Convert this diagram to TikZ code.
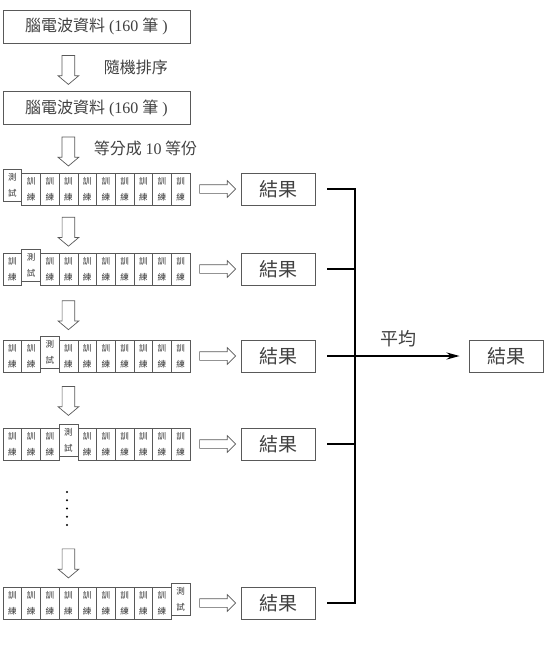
\documentclass[tikz,border=0pt]{standalone}
\usepackage{fontspec}
\setmainfont{Liberation Serif}
\newfontfamily\cjk{Noto Sans CJK TC}
\usetikzlibrary{positioning,shapes.arrows,arrows.meta}

\definecolor{boxgray}{gray}{0.35}

\tikzset{
    data box/.style={
        draw=boxgray,line width=.8pt,inner sep=0pt,
        minimum width=187pt,minimum height=33pt,
        text=black!75,font=\fontsize{16}{18}\selectfont
    },
    fold cell/.style={
        draw=boxgray,line width=.6pt,inner sep=0pt,align=center,
        minimum width=18.7pt,minimum height=32pt,
        text=black!80,font=\cjk\fontsize{8.5}{15.5}\selectfont
    },
    result box/.style={
        draw=boxgray,line width=.8pt,inner sep=0pt,
        minimum width=74pt,minimum height=32pt,
        text=black!75,font=\cjk\fontsize{19}{21}\selectfont
    },
    hollow arrow/.style={
        single arrow,draw=boxgray,line width=.7pt,fill=white,
        inner xsep=0pt,single arrow head indent=0pt
    },
    down arrow/.style={
        hollow arrow,rotate=-90,minimum height=29pt,inner ysep=6pt,
        single arrow head extend=4pt,single arrow tip angle=100
    },
    right arrow/.style={
        hollow arrow,minimum height=36pt,inner ysep=4pt,
        single arrow head extend=4pt,single arrow tip angle=90
    },
    note label/.style={text=black!75,font=\cjk\fontsize{16}{18}\selectfont},
    bracket/.style={line width=2.4pt}
}

\begin{document}
\begin{tikzpicture}[x=1pt,y=-1pt]
    \useasboundingbox (0,0) rectangle (547,659);
    \coordinate (spine) at (68.4,0);
    \node[data box] (raw) at (96.5,26.5) {{\cjk 腦電波資料} (160 {\cjk 筆} )};
    \node[data box] (shuffled) at (96.5,108) {{\cjk 腦電波資料} (160 {\cjk 筆} )};
    \path (raw.south -| spine) -- node[down arrow] (a0) {} (shuffled.north -| spine);
    \node[note label,right=32pt of a0.center] {隨機排序};
    % ten folds, one held out for testing in each row
    \foreach \r/\y/\t in {1/189/1,2/269/2,3/356/3,4/444/4,5/603/10}{
        \foreach \c in {1,...,10}{
            \ifnum\c=\t
                \node[fold cell,yshift=3.5pt] (f\r-\c) at (18.7*\c-6.35,\y) {測\\試};
            \else
                \node[fold cell] (f\r-\c) at (18.7*\c-6.35,\y) {訓\\練};
            \fi
        }
        \node[result box] (res\r) at (278,\y) {結果};
        \path (f\r-10.east |- res\r) -- node[right arrow] {} (res\r.west);
    }
    \path (shuffled.south -| spine) -- node[down arrow] (a1) {} (f1-4.north);
    \node[note label,right=22pt of a1.center] {等分成 {\rmfamily 10} 等份};
    \foreach \r/\s in {1/2,2/3,3/4}
        \path (f\r-4.south) -- node[down arrow] {} (f\s-4.north);
    % skipped rows
    \foreach \k in {0,...,4}
        \fill (67,492+8.25*\k) circle (1.1pt);
    \path (f4-4.south) -- node[down arrow,pos=.8] {} (f5-4.north);
    % average of the ten results
    \coordinate (join) at (355,356);
    \node[result box] (mean) at (506,356) {結果};
    \draw[bracket] ([xshift=12pt]res1.east) -- (res1 -| join) -- (res5 -| join) -- ([xshift=12pt]res5.east);
    \foreach \r in {2,4}
        \draw[bracket] ([xshift=12pt]res\r.east) -- (res\r -| join);
    \draw[bracket,-{Stealth[length=13pt,width=7pt]}] ([xshift=12pt]res3.east)
        -- node[pos=.54,above=4pt,note label,font=\cjk\fontsize{18}{20}\selectfont] {平均} ([xshift=-9pt]mean.west);
\end{tikzpicture}
\end{document}
